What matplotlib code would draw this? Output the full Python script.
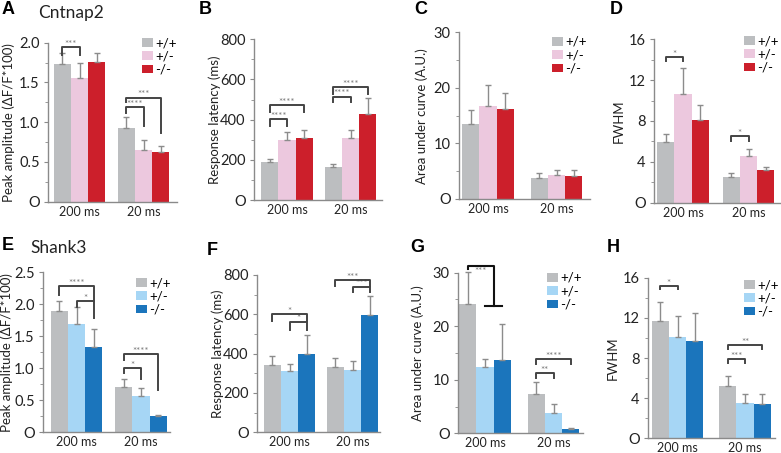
import matplotlib
matplotlib.use("Agg")
import matplotlib.pyplot as plt
from matplotlib.patches import Patch
import numpy as np

plt.rcParams['font.family'] = ['Lato', 'DejaVu Sans']

W, H = 781, 453

groups = ['200 ms', '20 ms']
genotypes = ['+/+', '+/-', '-/-']

# ---- data (means and SEM) ----
A_mean = [[1.73, 1.55, 1.76], [0.93, 0.65, 0.63]]
A_err = [[0.14, 0.19, 0.11], [0.14, 0.12, 0.07]]
B_mean = [[187, 299, 309], [166, 309, 428]]
B_err = [[15, 38, 40], [12, 40, 78]]
C_mean = [[13.5, 16.7, 16.2], [3.8, 4.3, 4.1]]
C_err = [[2.5, 3.8, 2.8], [0.8, 1.0, 1.2]]
D_mean = [[5.9, 10.6, 8.1], [2.5, 4.6, 3.2]]
D_err = [[0.8, 2.6, 1.5], [0.4, 0.7, 0.3]]
E_mean = [[1.90, 1.69, 1.34], [0.71, 0.57, 0.26]]
E_err = [[0.15, 0.27, 0.27], [0.13, 0.13, 0.01]]
F_mean = [[342, 314, 397], [331, 317, 597]]
F_err = [[46, 33, 98], [49, 46, 96]]
G_mean = [[24.1, 12.4, 13.6], [7.3, 3.7, 0.75]]
G_err = [[6.1, 1.5, 6.8], [2.2, 1.7, 0.18]]
H_mean = [[11.7, 10.1, 9.7], [5.2, 3.55, 3.4]]
H_err = [[1.9, 2.1, 2.8], [1.0, 0.85, 1.0]]

# significance brackets: (group, bar_i, bar_j, top, left_leg_end, right_leg_end, label)
A_sig = [(0, 0, 1, 1.94, 1.84, 1.84, '***'), (1, 0, 1, 1.195, 1.11, 0.95, '****'),
         (1, 0, 2, 1.31, 1.26, 0.87, '***')]
B_sig = [(0, 0, 1, 403, 368, 368, '****'), (0, 0, 2, 471, 440, 440, '****'),
         (1, 0, 1, 515, 490, 490, '****'), (1, 0, 2, 561, 528, 528, '****')]
C_sig = []
D_sig = [(0, 0, 1, 14.3, 13.9, 13.9, '*'), (1, 0, 1, 6.5, 6.0, 6.0, '*')]
E_sig = [(0, 0, 2, 2.29, 2.14, 2.05, '****'), (0, 1, 2, 2.05, 1.96, 1.78, '*'),
         (1, 0, 2, 1.22, 1.13, 0.66, '****'), (1, 0, 1, 1.01, 0.92, 0.83, '*')]
F_sig = [(0, 0, 2, 602, 566, 566, '*'), (0, 1, 2, 563, 520, 520, '*'),
         (1, 0, 2, 775, 744, 744, '***'), (1, 1, 2, 741, 715, 715, '***')]
G_sig = [(0, 0, (1, 2), 31.3, 30.6, 23.8, '***'), (1, 0, 2, 13.9, 12.9, 12.9, '****'),
         (1, 0, 1, 11.2, 10.3, 10.3, '**')]
H_sig = [(0, 0, 1, 15.2, 14.85, 14.85, '*'), (1, 0, 2, 9.3, 8.9, 8.9, '**'),
         (1, 0, 1, 7.9, 7.5, 7.5, '***')]

A_ticks = [0, 0.5, 1.0, 1.5, 2.0]
A_labels = ['O', '0.5', '1.0', '1.5', '2.0']
B_ticks = [0, 200, 400, 600, 800]
B_labels = ['O', '200', '400', '600', '800']
C_ticks = [0, 10, 20, 30]
C_labels = ['O', '10', '20', '30']
D_ticks = [0, 4, 8, 12, 16]
D_labels = ['O', '4', '8', '12', '16']
E_ticks = [0, 0.5, 1.0, 1.5, 2.0, 2.5]
E_labels = ['O', '0.5', '1.0', '1.5', '2.0', '2.5']

red_cols = ['#BCBEC0', '#ECC8DE', '#CC1F2B']
blue_cols = ['#BCBEC0', '#A6D6F5', '#1B75BC']

ylab_amp = 'Peak amplitude (ΔF/F*100)'
ylab_lat = 'Response latency (ms)'
ylab_auc = 'Area under curve (A.U.)'
ylab_fw = 'FWHM'

# layout in pixels: axis_left, axis_right, first group centre, group spacing, y0, ytop, ylabel x
panels = [
    dict(L='A', mean=A_mean, err=A_err, sig=A_sig, ticks=A_ticks, tl=A_labels, ymax=2.0, minor=0.25,
         cols=red_cols, ylab=ylab_amp, px=(48, 177, 79.5, 64, 201.7, 42.7, 9), leg=(142, 37), letter=(2, 10)),
    dict(L='B', mean=B_mean, err=B_err, sig=B_sig, ticks=B_ticks, tl=B_labels, ymax=800, minor=100,
         cols=red_cols, ylab=ylab_lat, px=(254, 382, 287, 63.5, 200, 39.3, 215), leg=None, letter=(199, 10)),
    dict(L='C', mean=C_mean, err=C_err, sig=C_sig, ticks=C_ticks, tl=C_labels, ymax=30, minor=5,
         cols=red_cols, ylab=ylab_auc, px=(459, 590, 488, 68.5, 199, 32.3, 422), leg=(552, 36), letter=(414, 10)),
    dict(L='D', mean=D_mean, err=D_err, sig=D_sig, ticks=D_ticks, tl=D_labels, ymax=16, minor=2,
         cols=red_cols, ylab=ylab_fw, px=(654, 781, 683, 65.5, 202.7, 39.3, 619), leg=(744, 35), letter=(610, 10)),
    dict(L='E', mean=E_mean, err=E_err, sig=E_sig, ticks=E_ticks, tl=E_labels, ymax=2.5, minor=0.25,
         cols=blue_cols, ylab=ylab_amp, px=(43, 170, 76.5, 64.5, 432.3, 272.3, 7), leg=(136, 277), letter=(2, 246)),
    dict(L='F', mean=F_mean, err=F_err, sig=F_sig, ticks=B_ticks, tl=B_labels, ymax=800, minor=100,
         cols=blue_cols, ylab=ylab_lat, px=(257, 380, 289.5, 63, 432.3, 275, 218), leg=None, letter=(207, 250)),
    dict(L='G', mean=G_mean, err=G_err, sig=G_sig, ticks=C_ticks, tl=C_labels, ymax=30, minor=5,
         cols=blue_cols, ylab=ylab_auc, px=(458, 583, 485, 68.5, 433.3, 272.7, 418), leg=(547, 272), letter=(410, 247)),
    dict(L='H', mean=H_mean, err=H_err, sig=H_sig, ticks=D_ticks, tl=D_labels, ymax=16, minor=2,
         cols=blue_cols, ylab=ylab_fw, px=(648, 775, 677.5, 67.5, 438.3, 277.7, 613), leg=(744, 279), letter=(607, 247)),
]

fig = plt.figure(figsize=(W / 100, H / 100), dpi=100)

spine_col = '#8a8a8a'
for p in panels:
    l, r, c1, dist, y0, yt, ylx = p['px']
    ax = fig.add_axes([l / W, 1 - y0 / H, (r - l) / W, (y0 - yt) / H])
    ax.set_xlim((l - c1) / dist, (r - c1) / dist)
    ax.set_ylim(0, p['ymax'])
    bw = 17.2 / dist
    for g in range(2):
        for i in range(3):
            x = g + (i - 1) * bw
            m = p['mean'][g][i]
            e = p['err'][g][i]
            ax.bar(x, m, width=bw, color=p['cols'][i], edgecolor='none', zorder=2)
            ax.errorbar(x, m, yerr=[[0], [e]], fmt='none', ecolor='#8c8c8c', elinewidth=1.0,
                        capsize=2, capthick=1.0, zorder=3, clip_on=False)
    for (g, i, j, top, lb, rb, lab) in p['sig']:
        x1 = g + (i - 1) * bw
        if isinstance(j, tuple):
            xa = g + (j[0] - 1) * bw
            xb = g + (j[1] - 1) * bw
            x2 = (xa + xb) / 2
            ax.plot([x1, x1, x2, x2], [lb, top, top, rb], color='#111111', lw=1.5, clip_on=False, zorder=4)
            ax.plot([xa, xb], [rb, rb], color='#111111', lw=1.5, clip_on=False, zorder=4)
            ax.text((x1 + x2) / 2, top - 0.035 * p['ymax'], lab, ha='center', va='center', fontsize=7,
                    color='#777777', clip_on=False)
        else:
            x2 = g + (j - 1) * bw
            ax.plot([x1, x1, x2, x2], [lb, top, top, rb], color='#444444', lw=1.4, clip_on=False, zorder=4)
            ax.text((x1 + x2) / 2, top - 0.012 * p['ymax'], lab, ha='center', va='bottom', fontsize=7,
                    color='#777777', clip_on=False)
    ax.set_xticks([0, 1])
    ax.set_xticklabels(groups, fontsize=9, color='#222222')
    ax.tick_params(axis='x', length=0, pad=3)
    ax.set_yticks(p['ticks'])
    ax.set_yticklabels(p['tl'], fontsize=10.5, color='#222222')
    ax.set_yticks(np.arange(0, p['ymax'] + 1e-9, p['minor']), minor=True)
    ax.tick_params(axis='y', which='major', length=3, width=0.8, color=spine_col, pad=3)
    ax.tick_params(axis='y', which='minor', length=2, width=0.6, color=spine_col)
    for s in ['top', 'right']:
        ax.spines[s].set_visible(False)
    for s in ['left', 'bottom']:
        ax.spines[s].set_color(spine_col)
        ax.spines[s].set_linewidth(1.0)
    ax.set_facecolor('none')
    fig.text(ylx / W, 1 - (y0 + yt) / 2 / H, p['ylab'], rotation=90, ha='center', va='center',
             fontsize=9.5, color='#222222')
    lx, ly = p['letter']
    fig.text(lx / W, 1 - ly / H, p['L'], ha='left', va='center', fontsize=13, fontweight='bold',
             family=['Liberation Sans', 'DejaVu Sans'])
    if p['leg'] is not None:
        handles = [Patch(facecolor=c, edgecolor='none') for c in p['cols']]
        lgx, lgy = p['leg']
        fig.legend(handles, genotypes, loc='upper left', bbox_to_anchor=(lgx / W, 1 - lgy / H),
                   frameon=False, fontsize=9.5, handlelength=0.8, handleheight=0.65,
                   handletextpad=0.2, labelspacing=0.1, borderpad=0, borderaxespad=0)

fig.text(38 / W, 1 - 13 / H, 'Cntnap2', ha='left', va='center', fontsize=12.5, color='#222222')
fig.text(30 / W, 1 - 248 / H, 'Shank3', ha='left', va='center', fontsize=12.5, color='#222222')

fig.savefig('out.png', dpi=100)
